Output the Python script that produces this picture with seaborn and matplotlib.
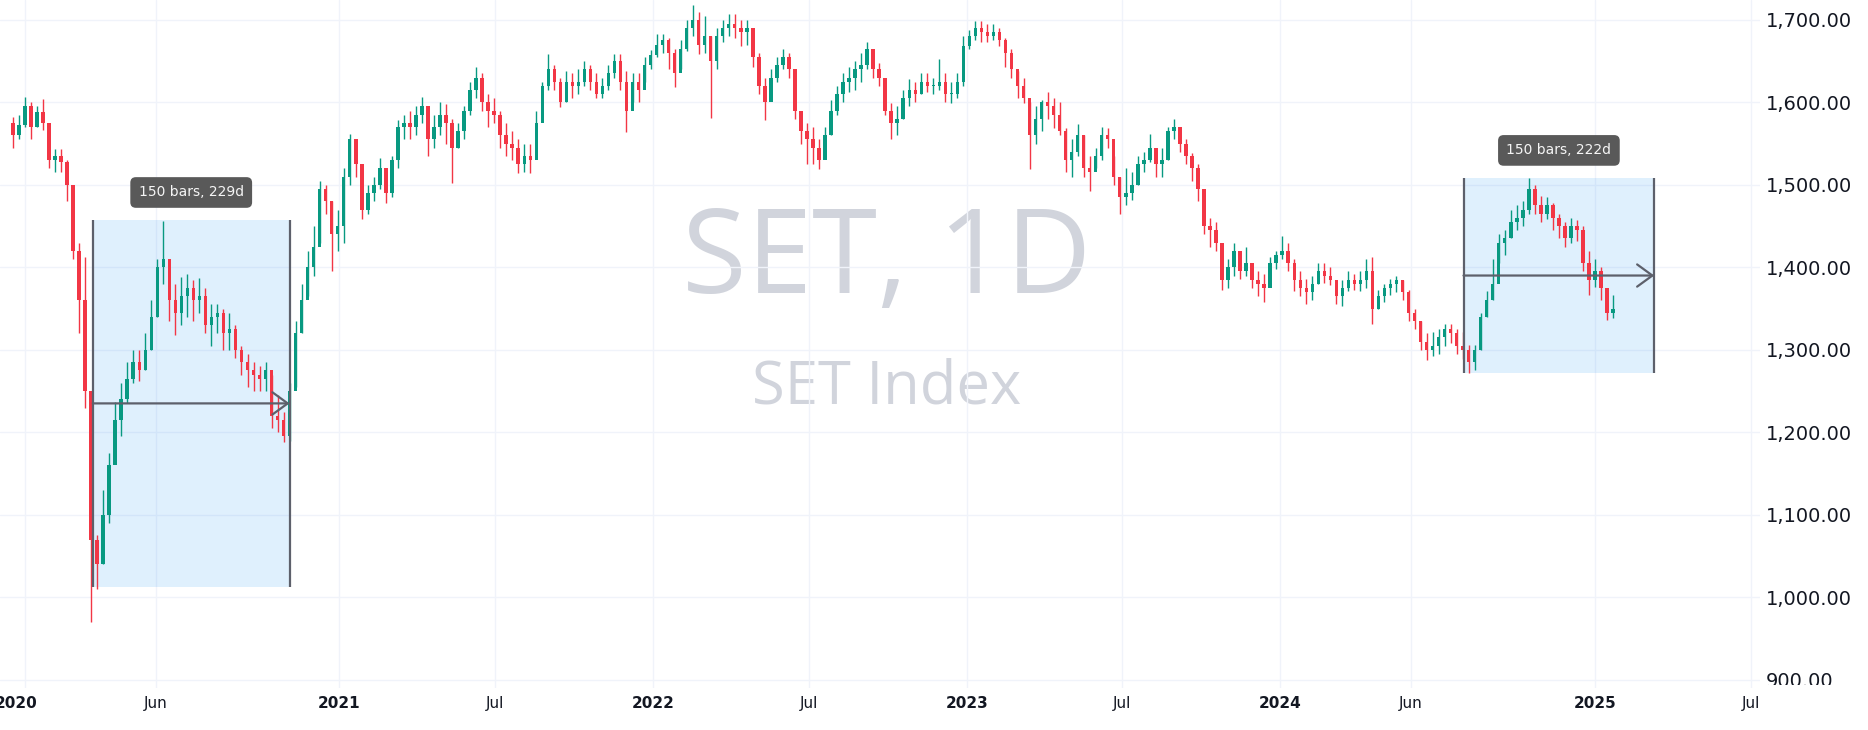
import matplotlib
matplotlib.use("Agg")
import matplotlib.pyplot as plt
import matplotlib.dates as mdates
from matplotlib.patches import Rectangle
from matplotlib.transforms import ScaledTranslation
import numpy as np
import pandas as pd
import seaborn as sns

# SET index, weekly candles (week ending Friday)
first_week = "2019-12-20"
first_open = 1575

close_2019 = [1560, 1572]
high_2019 = [1582, 1584]
low_2019 = [1544, 1556]

close_2020 = [1595, 1570, 1588, 1575, 1530, 1535, 1528, 1500, 1420, 1360, 1250, 1070, 1040,
              1100, 1160, 1215, 1240, 1265, 1285, 1275, 1300, 1340, 1400, 1410, 1360, 1345,
              1365, 1375, 1360, 1365, 1330, 1340, 1345, 1320, 1325, 1300, 1285, 1275, 1270,
              1265, 1275, 1220, 1215, 1195, 1250, 1320, 1360, 1400, 1425, 1495, 1480, 1440]
high_2020 = [1606, 1600, 1596, 1604, 1575, 1543, 1543, 1530, 1480, 1430, 1412, 1190, 1075,
             1130, 1175, 1237, 1260, 1285, 1300, 1300, 1320, 1360, 1410, 1456, 1400, 1380,
             1388, 1392, 1385, 1387, 1375, 1355, 1355, 1350, 1345, 1330, 1305, 1295, 1285,
             1280, 1285, 1270, 1245, 1225, 1260, 1335, 1380, 1420, 1450, 1505, 1500, 1480]
low_2020 = [1570, 1556, 1570, 1566, 1520, 1515, 1515, 1480, 1410, 1320, 1230, 970, 1010,
            1040, 1090, 1170, 1195, 1235, 1260, 1262, 1275, 1300, 1340, 1380, 1335, 1318,
            1330, 1340, 1335, 1345, 1320, 1305, 1320, 1300, 1300, 1290, 1270, 1255, 1250,
            1250, 1250, 1205, 1200, 1188, 1190, 1255, 1320, 1365, 1390, 1430, 1465, 1395]

close_2021 = [1450, 1510, 1555, 1525, 1470, 1490, 1500, 1520, 1490, 1530, 1570, 1575, 1570,
              1585, 1595, 1555, 1570, 1585, 1575, 1545, 1565, 1590, 1615, 1630, 1600, 1590,
              1585, 1560, 1550, 1545, 1525, 1535, 1530, 1575, 1620, 1640, 1625, 1600, 1625,
              1620, 1625, 1640, 1625, 1610, 1620, 1635, 1650, 1625, 1590, 1625, 1615, 1645, 1657]
high_2021 = [1470, 1520, 1562, 1545, 1520, 1500, 1510, 1532, 1520, 1535, 1578, 1585, 1590,
             1595, 1606, 1590, 1585, 1600, 1598, 1580, 1575, 1595, 1625, 1643, 1635, 1610,
             1605, 1590, 1575, 1565, 1555, 1550, 1550, 1590, 1625, 1658, 1645, 1630, 1638,
             1635, 1640, 1650, 1645, 1635, 1630, 1645, 1658, 1658, 1638, 1635, 1635, 1655, 1663]
low_2021 = [1420, 1430, 1500, 1510, 1458, 1465, 1480, 1495, 1478, 1485, 1520, 1555, 1555,
            1560, 1575, 1535, 1545, 1560, 1550, 1502, 1545, 1555, 1585, 1605, 1590, 1570,
            1575, 1545, 1535, 1530, 1514, 1515, 1514, 1540, 1585, 1615, 1615, 1594, 1600,
            1605, 1610, 1620, 1615, 1605, 1605, 1615, 1630, 1615, 1564, 1600, 1600, 1625, 1640]

close_2022 = [1670, 1675, 1660, 1635, 1665, 1690, 1700, 1670, 1680, 1650, 1680, 1690, 1695,
              1690, 1685, 1690, 1655, 1620, 1600, 1630, 1645, 1655, 1640, 1590, 1565, 1555,
              1545, 1530, 1560, 1590, 1610, 1625, 1630, 1640, 1645, 1665, 1640, 1630, 1590,
              1575, 1580, 1605, 1615, 1610, 1625, 1620, 1620, 1625, 1610, 1610, 1625, 1668]
high_2022 = [1683, 1683, 1678, 1665, 1675, 1700, 1718, 1710, 1705, 1680, 1690, 1700, 1707,
             1707, 1700, 1700, 1685, 1660, 1630, 1640, 1655, 1665, 1660, 1625, 1590, 1575,
             1570, 1555, 1570, 1603, 1620, 1635, 1643, 1650, 1660, 1673, 1660, 1648, 1628,
             1599, 1595, 1615, 1628, 1625, 1636, 1636, 1630, 1653, 1635, 1625, 1635, 1680]
low_2022 = [1655, 1660, 1640, 1618, 1640, 1662, 1680, 1658, 1660, 1581, 1640, 1673, 1680,
            1678, 1668, 1670, 1643, 1610, 1579, 1610, 1625, 1640, 1630, 1580, 1550, 1525,
            1525, 1519, 1535, 1560, 1585, 1600, 1613, 1615, 1625, 1640, 1630, 1620, 1584,
            1556, 1560, 1580, 1595, 1600, 1610, 1613, 1610, 1615, 1600, 1599, 1605, 1620]

close_2023 = [1680, 1690, 1685, 1680, 1685, 1675, 1660, 1640, 1620, 1605, 1560, 1580, 1600,
              1595, 1585, 1565, 1530, 1540, 1560, 1520, 1515, 1535, 1560, 1555, 1510, 1485,
              1490, 1500, 1525, 1530, 1545, 1525, 1530, 1565, 1570, 1550, 1535, 1520, 1495,
              1450, 1445, 1430, 1385, 1400, 1420, 1395, 1405, 1385, 1380, 1375, 1405, 1415]
high_2023 = [1688, 1698, 1698, 1695, 1695, 1690, 1678, 1665, 1638, 1630, 1600, 1595, 1603,
             1613, 1605, 1600, 1569, 1555, 1574, 1560, 1535, 1544, 1570, 1569, 1535, 1510,
             1520, 1515, 1535, 1540, 1562, 1545, 1545, 1570, 1580, 1565, 1555, 1539, 1525,
             1490, 1460, 1455, 1425, 1410, 1430, 1420, 1425, 1400, 1395, 1392, 1412, 1420]
low_2023 = [1665, 1675, 1673, 1673, 1675, 1668, 1643, 1630, 1605, 1599, 1519, 1550, 1565,
            1580, 1569, 1560, 1515, 1509, 1535, 1510, 1492, 1520, 1530, 1545, 1500, 1465,
            1475, 1482, 1500, 1515, 1528, 1510, 1510, 1530, 1555, 1540, 1525, 1504, 1480,
            1440, 1425, 1420, 1372, 1375, 1390, 1386, 1390, 1375, 1365, 1358, 1385, 1398]

close_2024 = [1420, 1405, 1385, 1375, 1370, 1380, 1395, 1390, 1385, 1365, 1375, 1385, 1380,
              1385, 1395, 1350, 1365, 1375, 1380, 1385, 1370, 1345, 1335, 1310, 1300, 1305,
              1315, 1325, 1320, 1305, 1300, 1285, 1300, 1340, 1360, 1380, 1430, 1435, 1455,
              1460, 1470, 1495, 1475, 1465, 1475, 1460, 1450, 1435, 1450, 1445, 1405, 1385]
high_2024 = [1438, 1430, 1410, 1395, 1386, 1390, 1405, 1405, 1400, 1385, 1385, 1396, 1392,
             1395, 1410, 1412, 1372, 1380, 1386, 1390, 1385, 1372, 1350, 1335, 1320, 1321,
             1325, 1331, 1331, 1325, 1321, 1306, 1306, 1345, 1371, 1410, 1440, 1445, 1470,
             1475, 1480, 1508, 1500, 1487, 1485, 1478, 1465, 1455, 1460, 1457, 1450, 1420]
low_2024 = [1410, 1395, 1371, 1365, 1356, 1360, 1380, 1381, 1378, 1355, 1353, 1371, 1372,
            1371, 1375, 1331, 1350, 1358, 1366, 1370, 1360, 1335, 1325, 1300, 1287, 1292,
            1295, 1305, 1308, 1295, 1289, 1272, 1275, 1300, 1340, 1360, 1405, 1415, 1435,
            1445, 1450, 1465, 1465, 1455, 1458, 1445, 1435, 1425, 1430, 1432, 1395, 1366]

close_2025 = [1395, 1375, 1345, 1350]
high_2025 = [1410, 1400, 1375, 1366]
low_2025 = [1376, 1360, 1336, 1338]

# the two date-range drawings
box_start = ["2020-03-20", "2024-08-01"]
box_end = ["2020-11-04", "2025-03-11"]
box_low = [1013, 1272]
box_high = [1457, 1508]
box_text = ["150 bars, 229d", "150 bars, 222d"]

tick_dates = ["2020-01-01", "2020-06-01", "2021-01-01", "2021-07-01", "2022-01-01", "2022-07-01",
              "2023-01-01", "2023-07-01", "2024-01-01", "2024-06-01", "2025-01-01", "2025-07-01"]
tick_labels = ["2020", "Jun", "2021", "Jul", "2022", "Jul", "2023", "Jul", "2024", "Jun", "2025", "Jul"]
price_ticks = list(range(900, 1800, 100))

closes = close_2019 + close_2020 + close_2021 + close_2022 + close_2023 + close_2024 + close_2025
highs = high_2019 + high_2020 + high_2021 + high_2022 + high_2023 + high_2024 + high_2025
lows = low_2019 + low_2020 + low_2021 + low_2022 + low_2023 + low_2024 + low_2025
assert len(closes) == len(highs) == len(lows), (len(closes), len(highs), len(lows))

weeks = pd.date_range(first_week, periods=len(closes), freq="W-FRI")
df = pd.DataFrame({
    "date": weeks - pd.Timedelta(days=2),
    "open": [first_open] + closes[:-1],
    "high": highs,
    "low": lows,
    "close": closes,
})
df["up"] = df["close"] >= df["open"]

UP = "#089981"
DOWN = "#f23645"
GRID = "#f0f3fa"
TOOL = "#5d606b"

sns.set_theme(style="white")
plt.rcParams["font.family"] = ["DejaVu Sans"]

fig = plt.figure(figsize=(18.68, 7.30), dpi=100)
ax = fig.add_axes([0, 42 / 730, 1760 / 1868, 688 / 730])

x = mdates.date2num(df["date"])
colors = np.where(df["up"], UP, DOWN)
body_lo = np.minimum(df["open"], df["close"])
body_h = np.maximum((df["close"] - df["open"]).abs(), 1.5)
ax.vlines(x, df["low"], df["high"], colors=colors, lw=1, zorder=3)
ax.bar(x, body_h, bottom=body_lo, width=4.0, color=colors, linewidth=0, zorder=3)

# watermark
ax.text(0.504, 0.574, "SET, 1D", transform=ax.transAxes, ha="center", va="baseline",
        fontsize=85, color="#d1d4dc", family="Open Sans", zorder=0)
ax.text(0.504, 0.414, "SET Index", transform=ax.transAxes, ha="center", va="baseline",
        fontsize=43, color="#d1d4dc", family="Open Sans", zorder=0)

# date range tools
for s, e, lo, hi, txt in zip(box_start, box_end, box_low, box_high, box_text):
    x0 = mdates.date2num(pd.Timestamp(s))
    x1 = mdates.date2num(pd.Timestamp(e))
    ax.add_patch(Rectangle((x0, lo), x1 - x0, hi - lo, facecolor="#2196f3", alpha=0.14,
                           linewidth=0, zorder=1))
    ax.vlines([x0, x1], lo, hi, colors=TOOL, lw=1.6, zorder=4)
    mid = (lo + hi) / 2
    ax.annotate("", xy=(x1, mid), xytext=(x0, mid),
                arrowprops=dict(arrowstyle="->,head_length=0.55,head_width=0.4", color=TOOL,
                                lw=1.6, mutation_scale=20, shrinkA=0, shrinkB=0), zorder=4)
    ax.annotate(txt, xy=((x0 + x1) / 2, hi), xytext=(0, 20), textcoords="offset points",
                ha="center", va="center", fontsize=10, color="#f5f5f5", zorder=5,
                bbox=dict(boxstyle="round,pad=0.6,rounding_size=0.4", fc="#595959", ec="none"))

ax.set_xlim(mdates.date2num(pd.Timestamp("2019-12-03")), mdates.date2num(pd.Timestamp("2025-07-12")))
ax.set_ylim(890, 1724)

ax.set_xticks(mdates.date2num(pd.to_datetime(tick_dates)))
ax.set_xticklabels(tick_labels)
for lab in ax.get_xticklabels():
    if lab.get_text().isdigit():
        lab.set_fontweight("bold")
ax.set_yticks(price_ticks)
ax.set_yticklabels([f"{v:,.2f}" for v in price_ticks])
ax.yaxis.tick_right()
ax.tick_params(axis="x", length=0, pad=6, labelsize=11, labelcolor="#131722")
ax.tick_params(axis="y", length=0, pad=4, labelsize=14, labelcolor="#131722")
ax.grid(True, color=GRID, lw=1, zorder=0)
ax.set_axisbelow(True)
sns.despine(ax=ax, left=True, bottom=True, right=True, top=True)

# first year label sits partly off the left edge, as in the screen grab
first_lab = ax.get_xticklabels()[0]
first_lab.set_transform(first_lab.get_transform() + ScaledTranslation(-0.09, 0, fig.dpi_scale_trans))

# time scale strip hides the lower part of the lowest price label
fig.patches.append(Rectangle((1764 / 1868, 0), 104 / 1868, 45 / 730, transform=fig.transFigure,
                             facecolor="white", edgecolor="none", zorder=5))

fig.savefig("out.png", dpi=100, facecolor="white")
